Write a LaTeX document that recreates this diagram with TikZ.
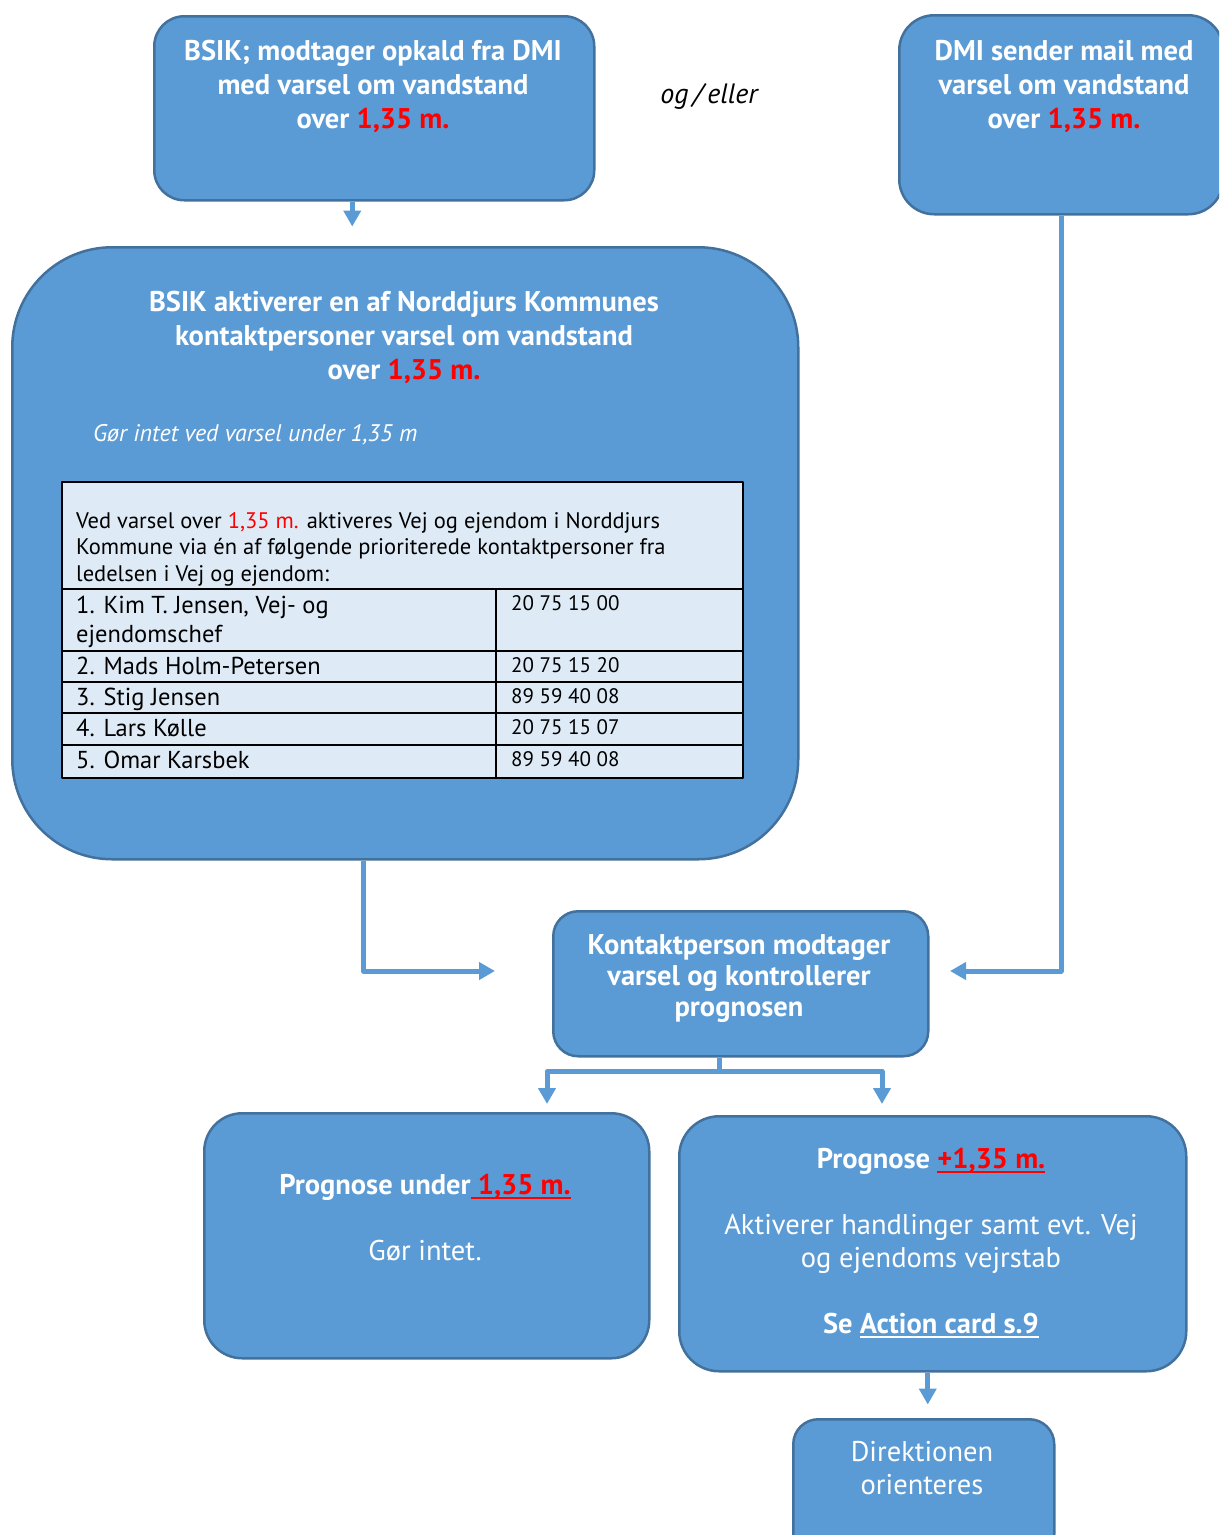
\documentclass[tikz,border=0pt]{standalone}
\usepackage{fontspec}
\setmainfont{PT Sans}
\usepackage{xcolor}
\usepackage{tikz}
\usetikzlibrary{calc,positioning,arrows.meta}
\definecolor{boxfill}{HTML}{5B9BD5}
\definecolor{boxline}{HTML}{41719C}
\definecolor{tablefill}{HTML}{DEEBF7}
\definecolor{alert}{HTML}{FF0000}
\tikzset{
  FlowBox/.style={
    draw=boxline, line width=2.5pt, fill=boxfill,
    rounded corners=#1, inner sep=0pt, anchor=north west
  },
  FlowBox/.default=30pt,
  BoxText/.style={
    text=white, align=center, anchor=north, inner sep=0pt,
    font=\bfseries\fontsize{28.5}{34}\selectfont
  },
  Flow/.style={
    draw=boxfill, line width=5pt,
    -{Triangle[width=17pt,length=16pt]}
  },
  Cell/.style={anchor=base west, inner sep=0pt, font=\fontsize{24.5}{29}\selectfont},
  Phone/.style={anchor=base west, inner sep=0pt, font=\fontsize{21}{26}\selectfont},
  Head/.style={anchor=base west, inner sep=0pt, font=\fontsize{22.5}{26}\selectfont}
}
\newsavebox{\ulbox}
\newcommand{\ULine}[1]{%
  % thick underline in the current colour
  \sbox{\ulbox}{#1}\rlap{\rule[-4.5pt]{\wd\ulbox}{2.5pt}}\usebox{\ulbox}}
\newcommand{\Lvl}{\textcolor{alert}{1,35 m.}}
\begin{document}
\begin{tikzpicture}[x=1pt, y=-1pt, line join=round]
  % page frame in pixel units
  \useasboundingbox (0,0) rectangle (1219,1535);
  \clip (0,0) rectangle (1219,1535);

  % boxes
  \node[FlowBox, minimum width=440pt, minimum height=184pt] (bsik) at (153,15) {};
  \node[FlowBox=35pt, minimum width=324pt, minimum height=199pt] (dmi) at (898,14) {};
  \node[FlowBox=100pt, minimum width=786pt, minimum height=612pt] (big) at (11,246) {};
  \node[FlowBox=25pt, minimum width=375pt, minimum height=145pt] (kontakt) at (552,910) {};
  \node[FlowBox=38pt, minimum width=445pt, minimum height=245pt] (low) at (203,1112) {};
  \node[FlowBox=40pt, minimum width=507pt, minimum height=255pt] (high) at (678,1115) {};
  \node[FlowBox=25pt, minimum width=261pt, minimum height=140pt] (direk) at (792,1418) {};

  % box texts
  \node[BoxText] (bsiktxt) at (373,40)
    {BSIK; modtager opkald fra DMI\\med varsel om vandstand\\over \Lvl};
  \node[font=\itshape\fontsize{28}{32}\selectfont] (ogeller) at (709,96) {og\,/\,eller};
  \node[BoxText] (dmitxt) at (1064,40)
    {DMI sender mail med\\varsel om vandstand\\over \Lvl};
  \node[BoxText] (bigtxt) at (404,291)
    {BSIK aktiverer en af Norddjurs Kommunes\\kontaktpersoner varsel om vandstand\\over \Lvl};
  \node[anchor=base west, inner sep=0pt, text=white,
        font=\itshape\fontsize{24}{28}\selectfont] (note) at (93,441)
    {Gør intet ved varsel under 1,35 m};
  \node[BoxText, font=\bfseries\fontsize{28.5}{31}\selectfont] (kontakttxt) at (739,934)
    {Kontaktperson modtager\\varsel og kontrollerer\\prognosen};
  \node[BoxText, font=\fontsize{28.5}{33}\selectfont] (lowtxt) at (425,1174)
    {\textbf{Prognose under\textcolor{alert}{\ULine{\ 1,35 m.}}}\\[33pt]Gør intet.};
  \node[BoxText, font=\fontsize{28.5}{33}\selectfont] (hightxt) at (931,1148)
    {\textbf{Prognose \textcolor{alert}{\ULine{+1,35 m.}}}\\[33pt]Aktiverer handlinger samt evt. Vej\\og ejendoms vejrstab\\[33pt]\textbf{Se \ULine{Action card s.9}}};
  \node[BoxText, font=\fontsize{28.5}{33}\selectfont] (direktxt) at (922,1441)
    {Direktionen\\orienteres};

  % contact table
  \node[draw=black, line width=1.5pt, fill=tablefill, inner sep=0pt, anchor=north west,
        minimum width=681pt, minimum height=296pt] (tbl) at (61,481) {};
  \draw[line width=1.5pt] (61,589) -- (742,589);
  \draw[line width=1.5pt] (61,651) -- (742,651);
  \draw[line width=1.5pt] (61,682) -- (742,682);
  \draw[line width=1.5pt] (61,713) -- (742,713);
  \draw[line width=1.5pt] (61,745) -- (742,745);
  \draw[line width=1.5pt] (496,589) -- (496,777);

  \node[Head] (head1) at (76,528) {Ved varsel over \textcolor{alert}{1,35 m.} aktiveres Vej og ejendom i Norddjurs};
  \node[Head] (head2) at (76,554) {Kommune via én af følgende prioriterede kontaktpersoner fra};
  \node[Head] (head3) at (76,581) {ledelsen i Vej og ejendom:};

  \node[Cell] (name1) at (76,613) {1. Kim T. Jensen, Vej- og};
  \node[Cell] (name1b) at (76,642) {ejendomschef};
  \node[Cell] (name2) at (76,674) {2. Mads Holm-Petersen};
  \node[Cell] (name3) at (76,705) {3. Stig Jensen};
  \node[Cell] (name4) at (76,736) {4. Lars Kølle};
  \node[Cell] (name5) at (76,768) {5. Omar Karsbek};

  \node[Phone] (tel1) at (511,610) {20 75 15 00};
  \node[Phone] (tel2) at (511,672) {20 75 15 20};
  \node[Phone] (tel3) at (511,703) {89 59 40 08};
  \node[Phone] (tel4) at (511,734) {20 75 15 07};
  \node[Phone] (tel5) at (511,766) {89 59 40 08};

  % free ends of the connectors
  \coordinate (kinL) at (495,971);
  \coordinate (kinR) at (950,971);
  \coordinate (lowin) at (547,1104);
  \coordinate (highin) at (882,1104);

  % connectors
  \draw[Flow] ([xshift=-22pt]bsik.south) -- ++(0,25);
  \draw[Flow] ([xshift=-42pt]big.south) |- (kinL);
  \draw[Flow] (dmi.south) |- (kinR);
  \draw[draw=boxfill, line width=5pt] ([xshift=-21pt]kontakt.south) -- ++(0,14) coordinate (split);
  \draw[Flow] (split) -| (lowin);
  \draw[Flow] (split) -| (highin);
  \draw[Flow] ([xshift=-5pt]high.south) -- ++(0,32);
\end{tikzpicture}
\end{document}
